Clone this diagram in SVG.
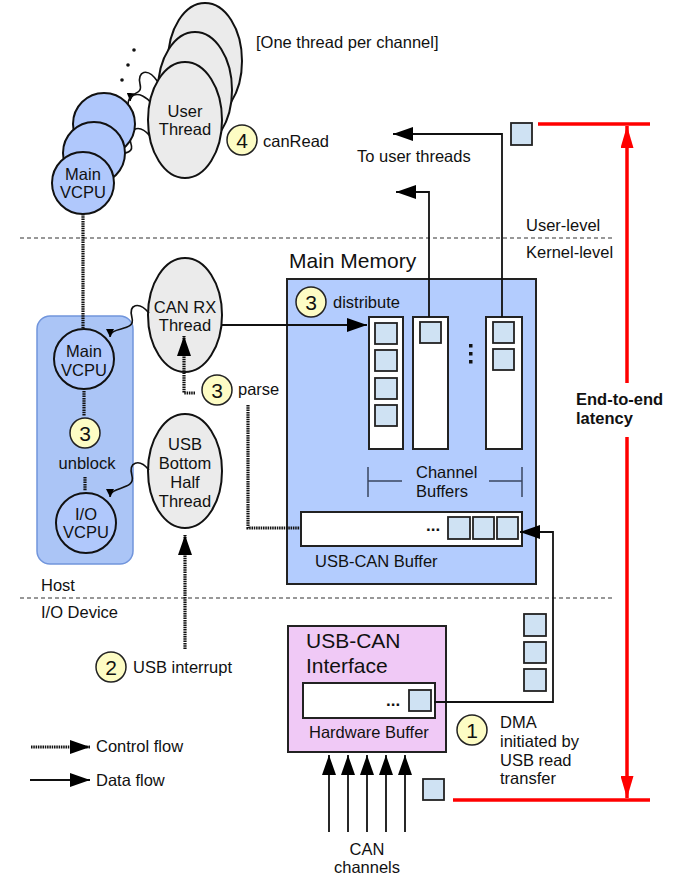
<svg xmlns="http://www.w3.org/2000/svg" width="686" height="880" viewBox="0 0 686 880">
<style>
text{font-family:"Liberation Sans",Arial,sans-serif;font-size:16.5px;fill:#111}
.c{text-anchor:middle}
.thr{fill:#ebebeb;stroke:#111;stroke-width:2}
.vcpu{fill:#b0c8fc;stroke:#111;stroke-width:2}
.sq{fill:#cfe2f3;stroke:#222;stroke-width:1.8}
.buf{fill:#fff;stroke:#222;stroke-width:2}
.num{fill:#fdfcc4;stroke:#222;stroke-width:1.5}
.numt{font-size:21px;text-anchor:middle}
.ctl{fill:none;stroke:#111;stroke-width:3.2;stroke-dasharray:1.5 0.8}
.data{fill:none;stroke:#111;stroke-width:1.8}
.sqg{fill:none;stroke:#111;stroke-width:1.6}
.sep{stroke:#777;stroke-width:1.5;stroke-dasharray:4 3}
.red{stroke:#f00;stroke-width:3.5;fill:none}
.brk{stroke:#3a4560;stroke-width:1.5;fill:none}
</style>
<defs>
<marker id="ah" markerUnits="userSpaceOnUse" markerWidth="21" markerHeight="14" refX="20" refY="7" orient="auto"><path d="M0,0 L20,7 L0,14 z" fill="#000"/></marker>
<marker id="sh" markerUnits="userSpaceOnUse" markerWidth="9" markerHeight="8" refX="8" refY="4" orient="auto"><path d="M0,0 L8,4 L0,8 z" fill="#000"/></marker>
<marker id="rh" markerUnits="userSpaceOnUse" markerWidth="23" markerHeight="13" refX="22" refY="6.5" orient="auto"><path d="M0,0 L22,6.5 L0,13 z" fill="#f00"/></marker>
</defs>

<!-- separators -->
<g id="separators">
<line class="sep" x1="20" y1="238" x2="615" y2="238"/>
<line class="sep" x1="20" y1="598" x2="615" y2="598"/>
<text x="526" y="231">User-level</text>
<text x="526" y="258">Kernel-level</text>
<text x="41" y="591">Host</text>
<text x="41" y="618">I/O Device</text>
</g>

<!-- host panel -->
<g id="vm-panel">
<rect x="37" y="316" width="96" height="248" rx="13" fill="#abc5f6" stroke="#7195dc" stroke-width="1.5"/>
</g>

<!-- main memory -->
<g id="main-memory">
<rect x="287" y="279" width="249" height="305" fill="#b3ccfe" stroke="#222" stroke-width="2"/>
<text x="289" y="268" style="font-size:21px">Main Memory</text>
</g>

<g id="step3-distribute">
<circle class="num" cx="311" cy="302" r="15"/>
<text class="numt" x="311" y="309.5">3</text>
<text x="333" y="308">distribute</text>
</g>

<g id="channel-buffer-1">
<rect class="buf" x="369" y="317" width="34" height="132"/>
<rect class="sq" x="375" y="323" width="22" height="21"/>
<rect class="sq" x="375" y="350" width="22" height="21"/>
<rect class="sq" x="375" y="378" width="22" height="21"/>
<rect class="sq" x="375" y="405" width="22" height="21"/>
</g>
<g id="channel-buffer-2">
<rect class="buf" x="413" y="317" width="35" height="132"/>
<rect class="sq" x="420" y="322" width="21" height="21"/>
</g>
<g id="channel-buffer-3">
<rect class="buf" x="486" y="317" width="36" height="132"/>
<rect class="sq" x="493" y="322" width="21" height="21"/>
<rect class="sq" x="493" y="349" width="21" height="21"/>
<rect x="469" y="344" width="3.5" height="3.5" fill="#111"/>
<rect x="469" y="352" width="3.5" height="3.5" fill="#111"/>
<rect x="469" y="360" width="3.5" height="3.5" fill="#111"/>
</g>
<g id="channel-buffers-label">
<path class="brk" d="M368,467 V497 M368,481 H402 M489,481 H522 M522,467 V497"/>
<text x="416" y="478">Channel</text>
<text x="416" y="497">Buffers</text>
</g>

<g id="usb-can-buffer">
<rect class="buf" x="301" y="512" width="221" height="34"/>
<text x="426" y="531" style="font-weight:bold;font-size:17px">...</text>
<rect class="sq" x="448" y="517" width="22" height="22"/>
<rect class="sq" x="473" y="517" width="21" height="22"/>
<rect class="sq" x="497" y="517" width="21" height="22"/>
<text x="315" y="567">USB-CAN Buffer</text>
</g>

<!-- user threads -->
<g id="user-threads-squiggles">
<path class="sqg" d="M158,82 C147,66 137,72 140,84 C143,96 131,90 130,101" marker-end="url(#sh)"/>
<path class="sqg" d="M152,104 C140,88 124,94 129,110 C134,124 120,120 120,130" marker-end="url(#sh)"/>
<path class="sqg" d="M150,136 C138,122 126,130 131,144 C136,158 110,150 110,162" marker-end="url(#sh)"/>
</g>

<g id="main-vcpu-stack">
<circle class="vcpu" cx="104" cy="124" r="31"/>
<circle class="vcpu" cx="94" cy="153" r="31"/>
<circle class="vcpu" cx="83" cy="183" r="31"/>
<text class="c" x="83" y="180">Main</text>
<text class="c" x="83" y="198">VCPU</text>
</g>

<g id="user-thread">
<ellipse class="thr" cx="205" cy="61" rx="37" ry="58"/>
<ellipse class="thr" cx="195" cy="90" rx="37" ry="58"/>
<ellipse class="thr" cx="185" cy="120" rx="37" ry="58"/>
<text class="c" x="185" y="117">User</text>
<text class="c" x="185" y="135">Thread</text>
<circle cx="134" cy="50" r="1.8" fill="#111"/>
<circle cx="128" cy="65" r="1.8" fill="#111"/>
<circle cx="122" cy="80" r="1.8" fill="#111"/>
<text x="256" y="48">[One thread per channel]</text>
</g>

<g id="step4-canread">
<circle class="num" cx="242" cy="140" r="15"/>
<text class="numt" x="242" y="147.5">4</text>
<text x="263" y="147">canRead</text>
</g>

<g id="to-user-threads">
<text x="357" y="162">To user threads</text>
</g>

<!-- host VCPUs -->
<g id="main-vcpu">
<circle class="vcpu" cx="84" cy="359" r="30"/>
<text class="c" x="84" y="357">Main</text>
<text class="c" x="84" y="376">VCPU</text>
</g>
<g id="step3-unblock">
<circle class="num" cx="85" cy="433" r="15"/>
<text class="numt" x="85" y="440.5">3</text>
<text class="c" x="87" y="469">unblock</text>
</g>
<g id="io-vcpu">
<circle class="vcpu" cx="86" cy="523" r="30"/>
<text class="c" x="86" y="520">I/O</text>
<text class="c" x="86" y="538">VCPU</text>
</g>

<g id="can-rx-thread">
<ellipse class="thr" cx="185" cy="315" rx="37" ry="57"/>
<text class="c" x="185" y="313">CAN RX</text>
<text class="c" x="185" y="331">Thread</text>
</g>
<g id="usb-bh-thread">
<ellipse class="thr" cx="185" cy="471" rx="37" ry="57"/>
<text class="c" x="185" y="450">USB</text>
<text class="c" x="185" y="469">Bottom</text>
<text class="c" x="185" y="488">Half</text>
<text class="c" x="185" y="507">Thread</text>
</g>

<g id="step3-parse">
<circle class="num" cx="217" cy="390" r="15"/>
<text class="numt" x="217" y="397.5">3</text>
<text x="238" y="395">parse</text>
</g>

<g id="step2-usb-interrupt">
<circle class="num" cx="111" cy="667" r="15"/>
<text class="numt" x="111" y="674.5">2</text>
<text x="133" y="673">USB interrupt</text>
</g>

<!-- device -->
<g id="usb-can-interface">
<rect x="288" y="626" width="158" height="126" fill="#f0c9f6" stroke="#222" stroke-width="2"/>
<text x="306" y="648" style="font-size:21px">USB-CAN</text>
<text x="306" y="673" style="font-size:21px">Interface</text>
<rect class="buf" x="303" y="683" width="132" height="35"/>
<text x="386" y="706" style="font-weight:bold;font-size:17px">...</text>
<rect class="sq" x="409" y="690" width="22" height="21"/>
<text x="309" y="738">Hardware Buffer</text>
</g>

<g id="step1-dma">
<circle class="num" cx="472" cy="730" r="15"/>
<text class="numt" x="472" y="737.5">1</text>
<text x="500" y="728">DMA</text>
<text x="500" y="747">initiated by</text>
<text x="500" y="766">USB read</text>
<text x="500" y="784">transfer</text>
</g>

<g id="dma-packets">
<rect class="sq" x="524" y="614" width="22" height="22"/>
<rect class="sq" x="524" y="642" width="22" height="21"/>
<rect class="sq" x="524" y="669" width="22" height="22"/>
</g>

<g id="can-channels">
<text class="c" x="367" y="855">CAN</text>
<text class="c" x="367" y="873">channels</text>
</g>

<g id="latency">
<rect class="sq" x="511" y="123" width="21" height="22"/>
<rect class="sq" x="423" y="779" width="21" height="21"/>
<text x="576" y="405" style="font-weight:bold">End-to-end</text>
<text x="576" y="424" style="font-weight:bold">latency</text>
</g>

<g id="legend">
<path class="ctl" d="M31,747 H90" marker-end="url(#ah)"/>
<text x="96" y="752">Control flow</text>
<path class="data" d="M30,780 H90" marker-end="url(#ah)"/>
<text x="96" y="786">Data flow</text>
</g>

<!-- connectors -->
<g id="connectors">
<path class="ctl" d="M83,214 V328"/>
<path class="ctl" d="M84,391 V416"/>
<path class="ctl" d="M85,477 V491"/>
<path class="sqg" d="M149,313 C139,301 128,304 132,318 C136,332 110,326 110,337" marker-end="url(#sh)"/>
<path class="sqg" d="M149,470 C139,458 128,462 132,476 C136,490 110,486 110,497" marker-end="url(#sh)"/>
<path class="ctl" d="M195,393 H184 V336" marker-end="url(#ah)"/>
<path class="ctl" d="M185,649 V535" marker-end="url(#ah)"/>
<path class="ctl" d="M248,405 V528 H300"/>
<path class="data" d="M222,325 H367" marker-end="url(#ah)"/>
<path class="data" d="M429,317 V192 H396" marker-end="url(#ah)"/>
<path class="data" d="M502,317 V134 H393" marker-end="url(#ah)"/>
<path class="data" d="M434,702 H553 V532 H520" marker-end="url(#ah)"/>
<path class="data" d="M329,832 V755" marker-end="url(#ah)"/>
<path class="data" d="M348,832 V755" marker-end="url(#ah)"/>
<path class="data" d="M367,832 V755" marker-end="url(#ah)"/>
<path class="data" d="M386,832 V755" marker-end="url(#ah)"/>
<path class="data" d="M405,832 V755" marker-end="url(#ah)"/>
<line class="red" x1="538" y1="124" x2="650" y2="124"/>
<line class="red" x1="453" y1="800" x2="650" y2="800"/>
<line class="red" x1="627" y1="383" x2="627" y2="126" marker-end="url(#rh)"/>
<line class="red" x1="627" y1="437" x2="627" y2="798" marker-end="url(#rh)"/>
</g>
</svg>
